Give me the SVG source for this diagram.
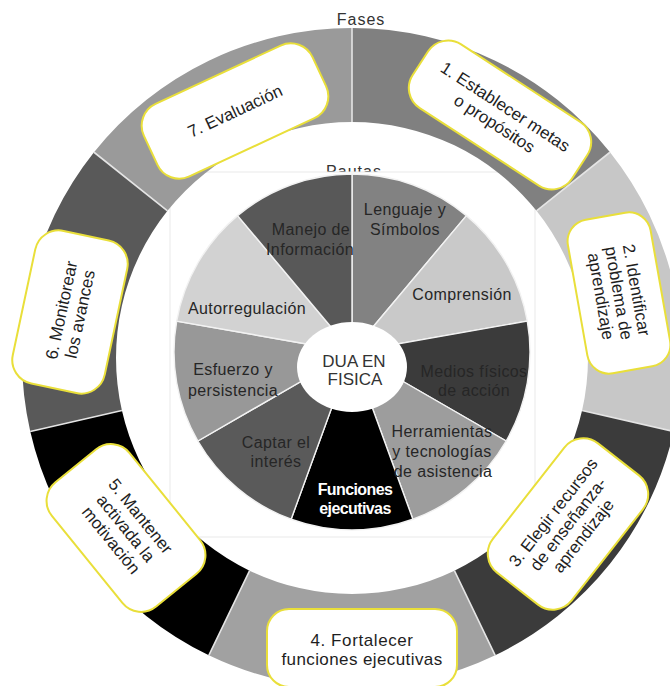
<svg xmlns="http://www.w3.org/2000/svg" width="670" height="686" viewBox="0 0 670 686">
<style>
text{font-family:"Liberation Sans",Arial,sans-serif;}
.ring path{stroke:none;}
.div{stroke:#e4e4e4;stroke-width:1.6;fill:none;}
.pie path{stroke:#f2f2f2;stroke-width:1.4;}
.pl{font-size:16px;fill:#262626;text-anchor:middle;letter-spacing:0.4px;}
.box rect{fill:#ffffff;stroke:#e9df3a;stroke-width:2;}
.bt{font-size:17px;fill:#1e1e1e;text-anchor:middle;}
.hdr{font-size:16px;fill:#333;text-anchor:middle;letter-spacing:1px;}
</style>
<rect width="670" height="686" fill="#ffffff"/>
<text class="hdr" x="361" y="25">Fases</text>
<text class="hdr" x="354" y="177">Pautas</text>
<rect x="170" y="172" width="365" height="365" fill="#ffffff" stroke="#e9e9e9" stroke-width="1"/>
<g id="fases-ring" class="ring">
<path d="M352 28 A330 330 0 0 1 610 152.25 L536.51 210.86 A236 236 0 0 0 352 122 Z" fill="#808080"/>
<path d="M610 152.25 A330 330 0 0 1 673.73 431.43 L582.08 410.51 A236 236 0 0 0 536.51 210.86 Z" fill="#c7c7c7"/>
<path d="M673.73 431.43 A330 330 0 0 1 495.18 655.32 L454.4 570.63 A236 236 0 0 0 582.08 410.51 Z" fill="#3b3b3b"/>
<path d="M495.18 655.32 A330 330 0 0 1 208.82 655.32 L249.6 570.63 A236 236 0 0 0 454.4 570.63 Z" fill="#a1a1a1"/>
<path d="M208.82 655.32 A330 330 0 0 1 30.27 431.43 L121.92 410.51 A236 236 0 0 0 249.6 570.63 Z" fill="#000000"/>
<path d="M30.27 431.43 A330 330 0 0 1 94 152.25 L167.49 210.86 A236 236 0 0 0 121.92 410.51 Z" fill="#595959"/>
<path d="M94 152.25 A330 330 0 0 1 352 28 L352 122 A236 236 0 0 0 167.49 210.86 Z" fill="#9a9a9a"/>
</g>
<g id="ring-dividers">
<path class="div" d="M352 28 L352 122 M610 152.25 L536.51 210.86 M673.73 431.43 L582.08 410.51 M495.18 655.32 L454.4 570.63 M208.82 655.32 L249.6 570.63 M30.27 431.43 L121.92 410.51 M94 152.25 L167.49 210.86"/>
</g>
<g id="pautas-pie" class="pie">
<path d="M352 352 L352 174 A178 178 0 0 1 466.42 215.64 Z" fill="#828282"/>
<path d="M352 352 L466.42 215.64 A178 178 0 0 1 527.3 321.09 Z" fill="#c9c9c9"/>
<path d="M352 352 L527.3 321.09 A178 178 0 0 1 506.15 441 Z" fill="#3b3b3b"/>
<path d="M352 352 L506.15 441 A178 178 0 0 1 412.88 519.27 Z" fill="#9d9d9d"/>
<path d="M352 352 L412.88 519.27 A178 178 0 0 1 291.12 519.27 Z" fill="#000000"/>
<path d="M352 352 L291.12 519.27 A178 178 0 0 1 197.85 441 Z" fill="#5a5a5a"/>
<path d="M352 352 L197.85 441 A178 178 0 0 1 176.7 321.09 Z" fill="#989898"/>
<path d="M352 352 L176.7 321.09 A178 178 0 0 1 237.58 215.64 Z" fill="#d2d2d2"/>
<path d="M352 352 L237.58 215.64 A178 178 0 0 1 352 174 Z" fill="#585858"/>
</g>
<g id="pie-labels">
<text class="pl" x="405" y="215">Lenguaje y</text>
<text class="pl" x="405" y="235">Símbolos</text>
<text class="pl" x="311" y="235">Manejo de</text>
<text class="pl" x="310" y="255">Información</text>
<text class="pl" x="462" y="300">Comprensión</text>
<text class="pl" x="247" y="314">Autorregulación</text>
<text class="pl" x="474" y="377">Medios físicos</text>
<text class="pl" x="474" y="396">de acción</text>
<text class="pl" x="442" y="437">Herramientas</text>
<text class="pl" x="442" y="457">y tecnologías</text>
<text class="pl" x="443" y="477">de asistencia</text>
<text class="pl" x="355" y="495" style="fill:#ffffff;font-weight:bold;letter-spacing:-0.6px">Funciones</text>
<text class="pl" x="355" y="514" style="fill:#ffffff;font-weight:bold;letter-spacing:-0.6px">ejecutivas</text>
<text class="pl" x="276" y="448">Captar el</text>
<text class="pl" x="276" y="467">interés</text>
<text class="pl" x="233" y="375">Esfuerzo y</text>
<text class="pl" x="233" y="396">persistencia</text>
</g>
<g id="centro">
<ellipse cx="352" cy="367" rx="55" ry="45" fill="#ffffff"/>
<text x="354" y="367" style="font-size:17px;fill:#333;text-anchor:middle">DUA EN</text>
<text x="355" y="385" style="font-size:17px;fill:#333;text-anchor:middle">FISICA</text>
</g>
<g id="fase1" class="box" transform="translate(500,115) rotate(33)">
<rect x="-95" y="-38" width="190" height="76" rx="24"/>
<text class="bt" y="-4">1. Establecer metas</text>
<text class="bt" y="16">o propósitos</text>
</g>
<g id="fase2" class="box" transform="translate(619,293) rotate(80)">
<rect x="-78" y="-42" width="156" height="84" rx="22"/>
<text class="bt" y="-12">2. Identificar</text>
<text class="bt" y="6">problema de</text>
<text class="bt" y="24">aprendizaje</text>
</g>
<g id="fase3" class="box" transform="translate(568,524) rotate(-52)">
<rect x="-82" y="-50" width="164" height="100" rx="24"/>
<text class="bt" y="-13">3. Elegir recursos</text>
<text class="bt" y="6">de enseñanza-</text>
<text class="bt" y="25">aprendizaje</text>
</g>
<g id="fase4" class="box" transform="translate(362,648)">
<rect x="-95" y="-39" width="190" height="78" rx="22"/>
<text class="bt" y="-2" style="letter-spacing:0.6px">4. Fortalecer</text>
<text class="bt" y="17" style="letter-spacing:0.4px">funciones ejecutivas</text>
</g>
<g id="fase5" class="box" transform="translate(126,528) rotate(51)">
<rect x="-80" y="-50" width="160" height="100" rx="24"/>
<text class="bt" y="-13">5. Mantener</text>
<text class="bt" y="6">activada la</text>
<text class="bt" y="25">motivación</text>
</g>
<g id="fase6" class="box" transform="translate(70,312) rotate(-78)">
<rect x="-78" y="-47" width="156" height="94" rx="24"/>
<text class="bt" y="-3">6. Monitorear</text>
<text class="bt" y="16">los avances</text>
</g>
<g id="fase7" class="box" transform="translate(235,111) rotate(-25)">
<rect x="-93" y="-40" width="186" height="80" rx="24"/>
<text class="bt" y="6">7. Evaluación</text>
</g>
</svg>
